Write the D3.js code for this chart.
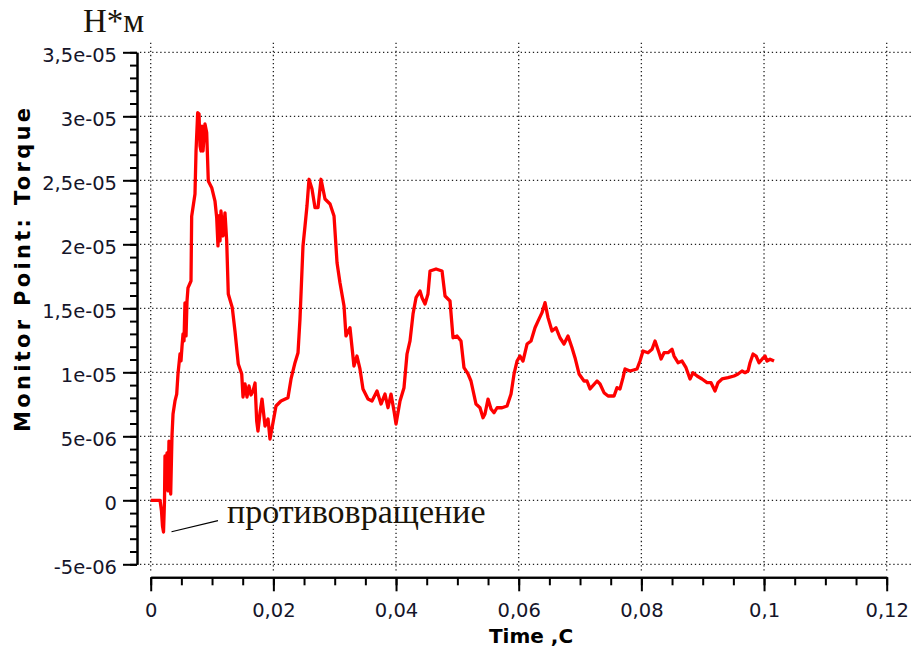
<!DOCTYPE html>
<html>
<head>
<meta charset="utf-8">
<script src="https://cdn.jsdelivr.net/npm/d3@7"></script>
<style>
  body { margin: 0; background: #fff; }
  svg { display: block; }
</style>
</head>
<body>
<svg id="chart" width="915" height="650"></svg>
<script>
// Monitor point torque vs. simulation time
const timeS = [0, 0.00152, 0.00176, 0.00192, 0.00209, 0.00225, 0.00233, 0.00249, 0.00266, 0.00282, 0.00298, 0.00315, 0.00326, 0.00347, 0.00364, 0.00396, 0.00424, 0.00445, 0.00478, 0.00494, 0.0051, 0.00527, 0.00543, 0.00559, 0.00576, 0.00592, 0.00608, 0.00657, 0.00668, 0.00722, 0.00739, 0.00766, 0.00788, 0.00804, 0.0082, 0.00836, 0.00853, 0.00885, 0.00913, 0.00939, 0.00995, 0.01048, 0.01076, 0.01097, 0.01114, 0.0113, 0.01146, 0.01179, 0.01211, 0.01239, 0.01265, 0.0133, 0.01374, 0.01428, 0.01484, 0.01505, 0.01538, 0.0157, 0.01603, 0.01635, 0.01668, 0.01701, 0.01728, 0.01749, 0.01782, 0.01815, 0.01864, 0.01913, 0.01945, 0.01994, 0.02043, 0.02124, 0.02238, 0.02288, 0.02353, 0.02402, 0.02434, 0.02483, 0.02516, 0.02548, 0.02581, 0.0263, 0.02679, 0.02728, 0.02777, 0.02842, 0.02924, 0.02989, 0.03038, 0.03086, 0.03152, 0.03184, 0.03249, 0.03314, 0.03363, 0.03412, 0.03461, 0.03543, 0.03608, 0.0369, 0.03755, 0.0382, 0.03869, 0.03918, 0.03967, 0.04, 0.04065, 0.0413, 0.04179, 0.04228, 0.04277, 0.04326, 0.04391, 0.04424, 0.04473, 0.04521, 0.04554, 0.04652, 0.0475, 0.04799, 0.0488, 0.04929, 0.04994, 0.05059, 0.05108, 0.05173, 0.05222, 0.05304, 0.05369, 0.05418, 0.0545, 0.055, 0.05549, 0.05598, 0.05647, 0.05728, 0.0581, 0.05875, 0.05924, 0.05973, 0.06021, 0.0607, 0.06136, 0.06201, 0.06266, 0.06315, 0.0638, 0.06429, 0.06478, 0.06543, 0.06608, 0.06673, 0.06739, 0.06804, 0.06869, 0.06918, 0.06984, 0.07065, 0.07114, 0.07163, 0.07277, 0.07326, 0.07391, 0.07457, 0.07555, 0.07603, 0.07652, 0.07701, 0.07734, 0.07815, 0.07929, 0.07978, 0.08027, 0.08108, 0.08174, 0.08223, 0.08288, 0.08321, 0.0837, 0.08435, 0.085, 0.08533, 0.08598, 0.08663, 0.08728, 0.08793, 0.08842, 0.08908, 0.08989, 0.09071, 0.09136, 0.09201, 0.0925, 0.09315, 0.09413, 0.09511, 0.09576, 0.09641, 0.0969, 0.09739, 0.09772, 0.09821, 0.0987, 0.09919, 0.09968, 0.10017, 0.10049, 0.10098, 0.10163];

// torque in micro newton-metres
const torqueMicroNm = [0, 0, -0.84, -2.0, -2.48, -0.05, 3.46, 0.88, 3.7, 0.73, 4.63, 2.29, 0.49, 5.02, 6.74, 7.76, 8.3, 9.88, 11.43, 10.9, 11.98, 13.0, 12.45, 15.43, 12.84, 15.57, 16.6, 17.13, 22.2, 23.93, 27.29, 30.28, 30.18, 27.68, 27.29, 29.24, 27.29, 29.4, 28.72, 24.95, 24.42, 23.38, 22.08, 19.87, 22.23, 20.27, 22.6, 20.65, 22.45, 20.26, 16.12, 15.05, 13.23, 10.65, 9.87, 8.07, 9.09, 8.07, 8.93, 8.23, 8.54, 9.16, 6.2, 5.41, 6.82, 7.91, 5.8, 6.35, 4.79, 6.06, 7.37, 7.76, 8.02, 9.48, 10.75, 11.53, 14.16, 19.87, 21.43, 22.99, 25.08, 24.32, 22.86, 22.86, 25.08, 23.54, 23.15, 22.21, 18.56, 17.0, 15.18, 12.84, 13.48, 10.49, 11.27, 10.26, 8.7, 7.91, 7.76, 8.54, 7.52, 8.3, 7.23, 8.3, 6.98, 5.96, 7.76, 8.8, 11.43, 12.45, 14.55, 15.83, 16.35, 15.83, 15.34, 16.12, 17.91, 18.07, 17.91, 15.96, 15.57, 12.7, 12.84, 12.45, 10.36, 9.87, 9.32, 7.52, 7.23, 6.45, 6.74, 7.91, 7.13, 6.84, 7.23, 7.23, 7.37, 8.3, 9.87, 10.88, 11.27, 10.88, 12.21, 12.45, 13.48, 14.0, 14.66, 15.44, 14.27, 13.23, 13.48, 12.7, 12.21, 12.84, 11.92, 11.14, 9.87, 9.32, 9.32, 8.7, 9.32, 9.09, 8.41, 8.15, 8.15, 8.8, 8.7, 9.58, 10.26, 10.1, 10.26, 10.88, 11.66, 11.53, 11.8, 12.45, 11.53, 11.04, 11.53, 11.53, 11.8, 11.27, 10.75, 10.88, 10.36, 9.48, 9.97, 9.71, 9.48, 9.19, 9.19, 8.54, 9.19, 9.48, 9.58, 9.71, 9.87, 10.1, 9.97, 10.1, 10.75, 11.43, 11.27, 10.75, 11.02, 11.27, 10.88, 11.02, 10.88];

const xTicks = [0, 0.02, 0.04, 0.06, 0.08, 0.1, 0.12];
const xTickLabels = ["0", "0,02", "0,04", "0,06", "0,08", "0,1", "0,12"];
const yTicks = [-5e-6, 0, 5e-6, 1e-5, 1.5e-5, 2e-5, 2.5e-5, 3e-5, 3.5e-5];
const yTickLabels = ["-5e-06", "0", "5e-06", "1e-05", "1,5e-05", "2e-05", "2,5e-05", "3e-05", "3,5e-05"];

const unitLabel = "Н*м";
const yTitle = "Monitor Point: Torque";
const xTitle = "Time ,C";
const noteText = "противовращение";

const points = timeS.map((t, i) => ({ t, v: torqueMicroNm[i] * 1e-6 }));

const svg = d3.select("#chart");
svg.append("rect").attr("width", 915).attr("height", 650).attr("fill", "#fff");

const x = d3.scaleLinear().domain([0, 0.12]).range([150.7, 886.7]);
const y = d3.scaleLinear().domain([-5e-6, 3.5e-5]).range([564.3, 52.3]);

const tickFont = "'DejaVu Sans', Verdana, sans-serif";
const ink = "#15152a";

// dotted grid
const grid = svg.append("g")
  .attr("stroke", "#222")
  .attr("stroke-width", 1.3)
  .attr("stroke-dasharray", "1.3 2.75")
  .attr("fill", "none");
grid.selectAll("line.v").data(xTicks).join("line")
  .attr("class", "v")
  .attr("x1", d => x(d)).attr("x2", d => x(d))
  .attr("y1", 42.7).attr("y2", 572);
grid.selectAll("line.h").data(yTicks).join("line")
  .attr("class", "h")
  .attr("x1", 140).attr("x2", 913)
  .attr("y1", d => y(d)).attr("y2", d => y(d));

// y axis: major + minor ticks
const yMinor = d3.range(-5, 35.5, 1).map(d => d * 1e-6);
const yAxisMinor = svg.append("g").attr("transform", "translate(137,0)")
  .call(d3.axisLeft(y).tickValues(yMinor).tickSize(7).tickSizeOuter(0).tickFormat(""));
const yAxis = svg.append("g").attr("transform", "translate(137,0)")
  .call(d3.axisLeft(y).tickValues(yTicks).tickSize(14).tickSizeOuter(0)
    .tickFormat((d, i) => yTickLabels[i]));

// x axis: major + minor ticks
const xMinor = d3.range(0, 0.1201, 0.005);
const xAxisMinor = svg.append("g").attr("transform", "translate(0,577.3)")
  .call(d3.axisBottom(x).tickValues(xMinor).tickSize(8).tickSizeOuter(0).tickFormat(""));
const xAxis = svg.append("g").attr("transform", "translate(0,577.3)")
  .call(d3.axisBottom(x).tickValues(xTicks).tickSize(14).tickSizeOuter(0)
    .tickFormat((d, i) => xTickLabels[i]));

[yAxisMinor, yAxis, xAxisMinor, xAxis].forEach(g => {
  g.select(".domain").attr("stroke", "#000").attr("stroke-width", 2);
  g.selectAll(".tick line").attr("stroke", "#000").attr("stroke-width", 2);
});

yAxis.selectAll(".tick text")
  .attr("x", -20).attr("dy", null).attr("y", 9.4)
  .attr("fill", ink)
  .style("font-family", tickFont).style("font-size", "19.5px");

xAxis.selectAll(".tick text")
  .attr("y", 40.2).attr("dy", null)
  .attr("fill", ink)
  .style("font-family", tickFont).style("font-size", "19.5px");

// torque curve
const line = d3.line().x(d => x(d.t)).y(d => y(d.v)).curve(d3.curveLinear);
svg.append("path")
  .datum(points)
  .attr("d", line)
  .attr("fill", "none")
  .attr("stroke", "#ff0000")
  .attr("stroke-width", 3.3)
  .attr("stroke-linejoin", "round");

// axis titles
svg.append("text")
  .attr("transform", "translate(29.5,270) rotate(-90)")
  .attr("text-anchor", "middle")
  .attr("fill", "#000")
  .style("font-family", tickFont).style("font-weight", "bold").style("font-size", "21px")
  .attr("textLength", 324).attr("lengthAdjust", "spacing")
  .text(yTitle);

svg.append("text")
  .attr("x", 531).attr("y", 643)
  .attr("text-anchor", "middle")
  .attr("fill", "#000")
  .style("font-family", tickFont).style("font-weight", "bold").style("font-size", "20px")
  .text(xTitle);

// unit label
svg.append("text")
  .attr("x", 83).attr("y", 32.3)
  .attr("fill", "#1a1408")
  .style("font-family", "'Liberation Serif', 'Times New Roman', serif").style("font-size", "33px")
  .text(unitLabel);

// annotation for the initial reverse rotation dip
const dip = points.reduce((a, b) => (b.v < a.v ? b : a));
svg.append("line")
  .attr("x1", x(dip.t) + 8).attr("y1", y(dip.v) - 0.3)
  .attr("x2", 218).attr("y2", 520.7)
  .attr("stroke", "#000").attr("stroke-width", 1.2);
svg.append("text")
  .attr("x", 227).attr("y", 523.3)
  .attr("fill", "#1a1408")
  .style("font-family", "'Liberation Serif', 'Times New Roman', serif").style("font-size", "34px")
  .text(noteText);
</script>
</body>
</html>
